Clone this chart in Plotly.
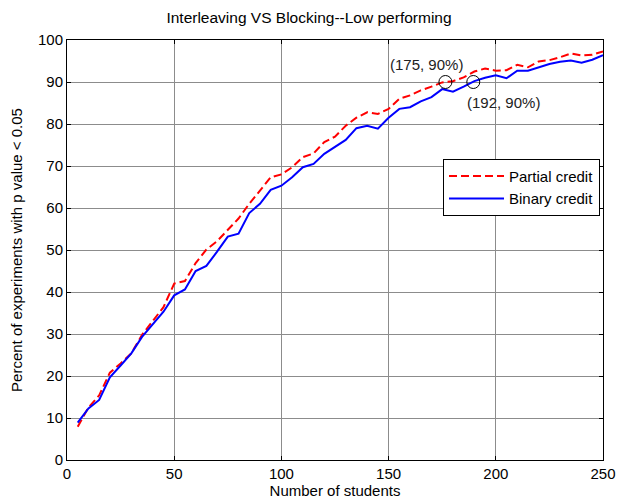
import plotly.graph_objects as go

students = list(range(5, 251, 5))

partial_credit = [7.9, 12.5, 15.4, 20.8, 23.0, 25.4, 29.8, 33.0, 36.4, 42.0,
                  42.6, 46.9, 50.1, 52.1, 54.7, 57.5, 61.0, 64.2, 67.3, 68.0,
                  69.7, 72.1, 73.0, 75.7, 77.0, 79.6, 81.5, 82.8, 82.4, 83.6,
                  86.0, 86.8, 88.0, 88.9, 89.9, 90.2, 91.1, 92.5, 93.2, 92.7,
                  92.8, 94.1, 93.5, 94.9, 95.2, 95.9, 96.8, 96.3, 96.5, 97.3]

binary_credit = [8.9, 12.3, 14.3, 19.7, 22.5, 25.4, 29.3, 32.3, 35.3, 39.2,
                 40.6, 45.0, 46.2, 49.6, 53.2, 53.9, 58.8, 61.0, 64.3, 65.3,
                 67.3, 69.7, 70.5, 72.9, 74.5, 76.2, 79.0, 79.6, 78.9, 81.5,
                 83.6, 84.0, 85.4, 86.4, 88.3, 87.7, 88.9, 90.2, 91.0, 91.6,
                 90.9, 92.7, 92.7, 93.5, 94.3, 94.8, 95.1, 94.6, 95.3, 96.4]

marker_x = [176.5, 189.5]
marker_y = [90, 90]
marker_labels = ["(175, 90%)", "(192, 90%)"]

x_ticks = [0, 50, 100, 150, 200, 250]
y_ticks = list(range(0, 101, 10))

FONT = "Liberation Sans, Arial, sans-serif"

fig = go.Figure()
fig.add_trace(go.Scatter(x=students, y=partial_credit, mode="lines",
                         name="Partial credit",
                         line=dict(color="#ff0000", width=2, dash="8px,4px")))
fig.add_trace(go.Scatter(x=students, y=binary_credit, mode="lines",
                         name="Binary credit",
                         line=dict(color="#0000ff", width=2)))
fig.add_trace(go.Scatter(x=marker_x, y=marker_y, mode="markers",
                         showlegend=False,
                         marker=dict(symbol="circle-open", size=13,
                                     color="black", line=dict(width=1, color="black"))))

fig.add_annotation(x=185.6, y=94.1, text=marker_labels[0], showarrow=False,
                   xanchor="right", yanchor="middle", font=dict(size=15, color="#222"))
fig.add_annotation(x=185.6, y=85.2, text=marker_labels[1], showarrow=False,
                   xanchor="left", yanchor="middle", font=dict(size=15, color="#222"))

axis_common = dict(showline=True, linecolor="black", linewidth=1, mirror="allticks",
                   ticks="inside", ticklen=4, tickcolor="black",
                   showgrid=True, gridcolor="#8c8c8c", gridwidth=1,
                   zeroline=False, tickfont=dict(size=15, color="black"),
                   automargin=False)

fig.update_xaxes(range=[0, 250], tickvals=x_ticks,
                 title=dict(text="Number of students", font=dict(size=15), standoff=0),
                 **axis_common)
fig.update_yaxes(range=[0, 100], tickvals=y_ticks,
                 title=dict(text="Percent of experiments with p value < 0.05",
                            font=dict(size=15), standoff=11),
                 **axis_common)

fig.update_layout(
    width=618, height=502,
    margin=dict(l=67, r=15, t=40, b=42),
    paper_bgcolor="white", plot_bgcolor="white",
    font=dict(family=FONT, size=15, color="black"),
    title=dict(text="Interleaving VS Blocking--Low performing",
               x=0.5, xanchor="center", y=0.964, yanchor="middle",
               font=dict(size=15.5)),
    legend=dict(x=0.7015, y=0.717, xanchor="left", yanchor="top",
                bgcolor="white", bordercolor="black", borderwidth=1,
                font=dict(size=15), tracegroupgap=0, itemwidth=55),
    showlegend=True,
    hovermode=False,
)

# remove the page's default body margin so the figure fills the window exactly
fig.write_html("out.html",
               config={"displayModeBar": False},
               post_script="document.body.style.margin='0';"
                           "document.body.style.overflow='hidden';")
